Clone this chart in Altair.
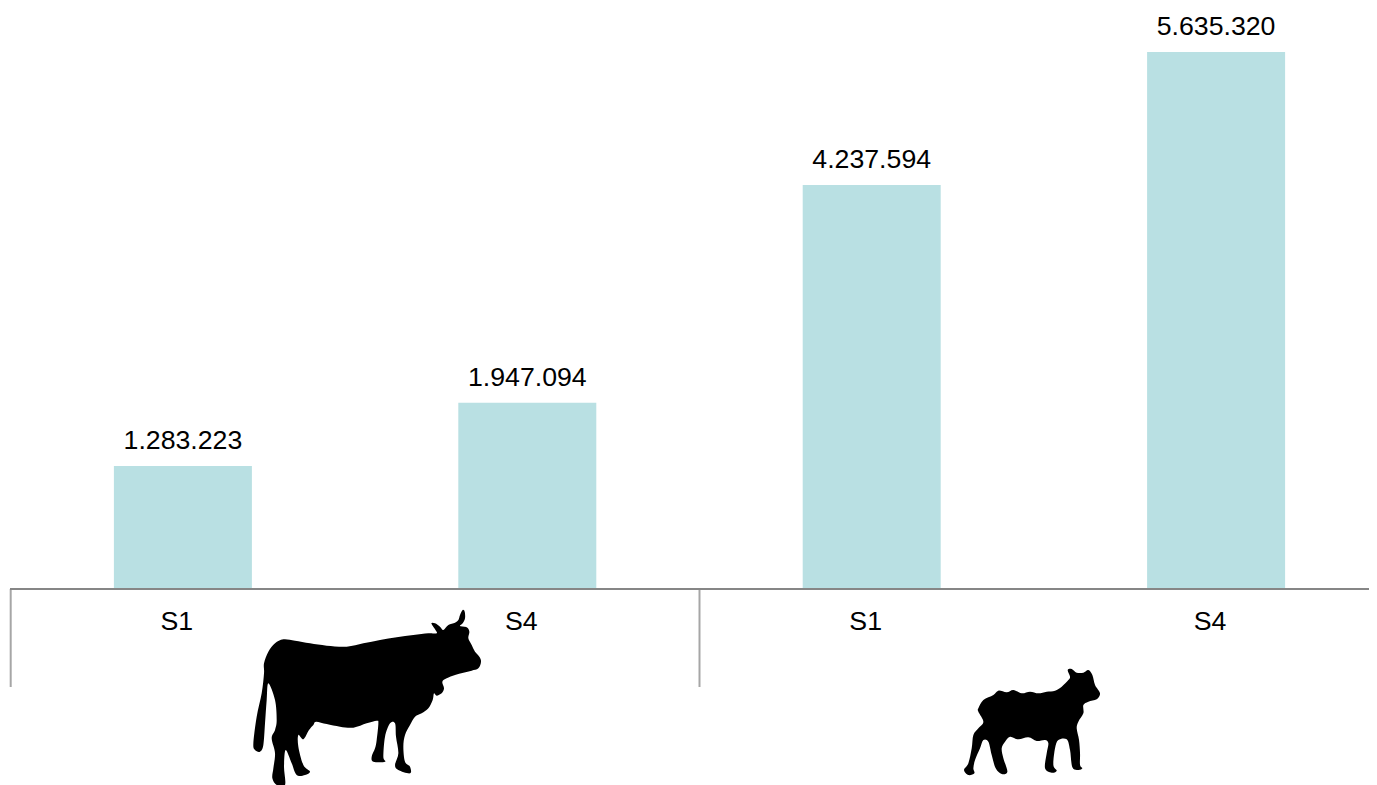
import altair as alt
import pandas as pd

categories = ["S1", "S4", "S1", "S4"]
values = [1283223, 1947094, 4237594, 5635320]
value_labels = ["1.283.223", "1.947.094", "4.237.594", "5.635.320"]
positions = [0.5, 1.5, 2.5, 3.5]
separators = [0, 2]

COW = [(130,118),(165,122),(210,130),(260,137),(320,140),(370,130),(420,120),(470,112),(520,105),(565,100),(590,100),
(585,88),(574,70),(585,70),(600,80),(610,90),(625,75),(645,68),(655,60),(660,45),(668,30),(674,35),(675,55),(668,70),(660,78),
(680,82),(688,95),(685,115),(695,135),(705,155),(718,170),(723,185),(715,205),(695,212),(670,218),(645,225),(620,235),(607,245),
(612,265),(605,280),(590,287),(582,280),(578,300),(565,325),(545,340),(525,350),(510,375),(495,405),(490,440),(495,485),(510,500),
(510,520),(475,510),(465,495),(475,460),(468,410),(465,370),(450,370),(435,410),(430,470),(435,485),(400,485),(395,470),(405,445),
(410,420),(415,370),(410,362),(380,370),(340,383),(300,380),(260,372),(228,365),(220,375),(207,390),(190,418),(175,405),(175,440),
(190,495),(210,515),(195,525),(170,525),(155,490),(137,450),(132,500),(135,555),(110,555),(97,535),(100,505),(105,460),(95,415),
(105,390),(110,360),(105,300),(85,250),(80,300),(75,370),(70,435),(60,455),(45,450),(40,430),(50,350),(65,280),(72,220),(72,190),
(85,155),(105,130)]

SHEEP = [(70,145),(85,120),(115,105),(130,92),(155,97),(175,90),(200,100),(225,95),(250,100),(275,95),(300,92),(320,80),(340,60),
(345,50),(338,30),(350,27),(365,38),(385,38),(400,30),(412,45),(420,75),(435,100),(425,118),(400,125),(385,135),(385,160),(370,185),
(365,205),(372,240),(375,280),(375,315),(382,325),(370,330),(352,322),(345,270),(335,238),(310,240),(300,265),(295,315),(305,332),
(290,338),(270,325),(275,280),(280,250),(270,240),(245,243),(220,232),(190,238),(165,230),(150,245),(140,265),(145,295),(157,335),
(140,342),(122,325),(110,285),(100,245),(85,240),(75,265),(60,300),(55,325),(58,340),(40,345),(27,330),(40,310),(50,265),(55,225),
(70,205),(85,185),(70,155)]


def glyph(points, w, h):
    half = max(w, h) / 2
    pts = [((x - w / 2) / half, (y - h / 2) / half) for x, y in points]
    n = len(pts)
    d = f"M{pts[0][0]:.4f},{pts[0][1]:.4f}"
    for i in range(n):
        p0, p1, p2, p3 = pts[i - 1], pts[i], pts[(i + 1) % n], pts[(i + 2) % n]
        c1 = (p1[0] + (p2[0] - p0[0]) / 6, p1[1] + (p2[1] - p0[1]) / 6)
        c2 = (p2[0] - (p3[0] - p1[0]) / 6, p2[1] - (p3[1] - p1[1]) / 6)
        d += f" C{c1[0]:.4f},{c1[1]:.4f} {c2[0]:.4f},{c2[1]:.4f} {p2[0]:.4f},{p2[1]:.4f}"
    return d + " Z"


df = pd.DataFrame({"pos": positions, "value": values, "cat": categories, "label": value_labels})
xscale = alt.Scale(domain=[0, 4], range=[2.7, 1380.3], padding=0)
x = alt.X("pos:Q", axis=None, scale=xscale)
y = alt.Y("value:Q", axis=None, scale=alt.Scale(domain=[0, 6098000], range=[580, 0]))
FONT = "Liberation Sans"

bars = alt.Chart(df).mark_bar(width=138, color="#B9E0E3").encode(x=x, y=y, y2=alt.Y2(datum=0))
tops = alt.Chart(df).mark_text(font=FONT, fontSize=26.7, color="#000000", baseline="alphabetic", dy=-17).encode(
    x=x, y=y, text="label:N")
cats = alt.Chart(df).mark_text(font=FONT, fontSize=26.7, color="#000000", baseline="alphabetic", dx=-6).encode(
    x=x, y=alt.value(621.5), text="cat:N")
base = alt.Chart(pd.DataFrame({"a": [0]})).mark_rule(color="#868686", strokeWidth=2).encode(
    x=alt.value(2), x2=alt.value(1361), y=alt.value(581))
seps = alt.Chart(pd.DataFrame({"pos": separators})).mark_rule(color="#A6A6A6", strokeWidth=2).encode(
    x=x, y=alt.value(581), y2=alt.value(679))

cow = alt.Chart(pd.DataFrame({"pos": [1.0288]})).mark_point(
    shape=glyph(COW, 750, 555), filled=True, color="#000000", opacity=1, size=62500, strokeWidth=0
).encode(x=x, y=alt.value(684.5))
sheep = alt.Chart(pd.DataFrame({"pos": [2.967]})).mark_point(
    shape=glyph(SHEEP, 465, 360), filled=True, color="#000000", opacity=1, size=24025, strokeWidth=0
).encode(x=x, y=alt.value(712))

chart = alt.layer(bars, tops, cats, seps, base, cow, sheep).properties(
    width=1361, height=777, padding=0, autosize=alt.AutoSizeParams(type="none")
).configure_view(stroke=None)

chart.save("out.html", embed_options={"renderer": "svg", "actions": False})
